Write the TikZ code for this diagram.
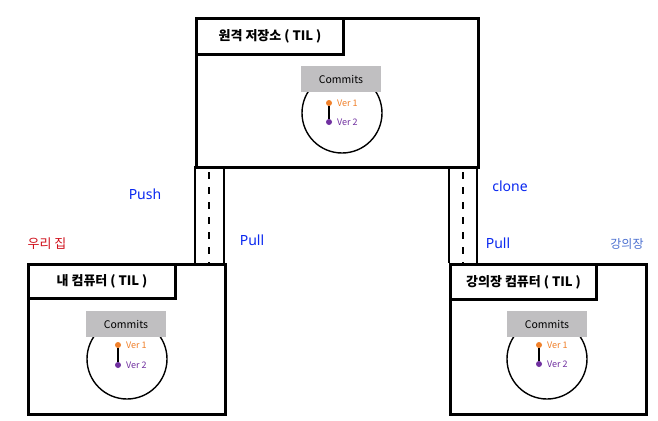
\documentclass[tikz,border=0pt]{standalone}
\usepackage{fontspec}
\setmainfont{Noto Sans CJK KR}
\newfontfamily\hand{Noto Sans}
\definecolor{cgray}{HTML}{C0BFC1}
\definecolor{vorange}{HTML}{F0802A}
\definecolor{vpurple}{HTML}{7030A0}
\definecolor{penblue}{HTML}{0A28F0}
\definecolor{homered}{HTML}{D0101B}
\definecolor{lecblue}{HTML}{4A6FD0}
\tikzset{
  box/.style={draw=black, line width=3pt, fill=white, anchor=north west, inner sep=0pt},
  titlebox/.style={box, font=\bfseries\fontsize{13}{15}\selectfont},
  ring/.style={draw=black, line width=1.4pt, circle, minimum size=80pt, inner sep=0pt},
  cbox/.style={fill=cgray, minimum width=80pt, minimum height=26pt, inner sep=0pt, font=\fontsize{10.5}{12}\selectfont},
  vdot/.style={circle, inner sep=0pt, minimum size=6pt},
  vlab/.style={anchor=west, inner sep=0pt, font=\fontsize{9}{10}\selectfont},
  pipe/.style={line width=2pt},
  pipedash/.style={line width=1.5pt, dash pattern=on 7pt off 8pt},
  handlab/.style={text=penblue, inner sep=0pt, font=\hand\bfseries\fontsize{14}{15}\selectfont},
}
\begin{document}
\begin{tikzpicture}[x=1pt,y=-1pt]
\useasboundingbox (0,0) rectangle (658,420);
\fill[white] (0,0) rectangle (658,420);

% pipes
\coordinate (pl1) at (195,166); \coordinate (pl2) at (195,263);
\coordinate (pl3) at (224,166); \coordinate (pl4) at (224,263);
\coordinate (pl5) at (209,172); \coordinate (pl6) at (209,263);
\coordinate (pr1) at (449,166); \coordinate (pr2) at (449,263);
\coordinate (pr3) at (477,166); \coordinate (pr4) at (477,263);
\coordinate (pr5) at (463,172); \coordinate (pr6) at (463,263);
\draw[pipe] (pl1) -- (pl2);
\draw[pipe] (pl3) -- (pl4);
\draw[pipedash] (pl5) -- (pl6);
\draw[pipe] (pr1) -- (pr2);
\draw[pipe] (pr3) -- (pr4);
\draw[pipedash] (pr5) -- (pr6);

% remote box
\node[box, minimum width=282pt, minimum height=149pt] (remote) at (195,17) {};
\node[titlebox, minimum width=147pt, minimum height=36pt] (remoteT) at (195,17) {원격 저장소 ( TIL )};
\node[ring] (rc) at (342,113) {};
\node[cbox] (rb) at (341,79) {Commits};
\node[vdot, fill=vorange] (rv1) at (329,103) {};
\node[vdot, fill=vpurple] (rv2) at (329,122) {};
\draw[line width=1.5pt] (rv1) -- (rv2);
\node[vlab, text=vorange] (rl1) at (337,103) {Ver 1};
\node[vlab, text=vpurple] (rl2) at (337,122) {Ver 2};

% my computer
\node[box, minimum width=197pt, minimum height=150pt] (mine) at (27,263) {};
\node[titlebox, minimum width=147pt, minimum height=34pt] (mineT) at (27,263) {내 컴퓨터 ( TIL )};
\node[ring] (mc) at (127,359) {};
\node[cbox] (mb) at (126,324) {Commits};
\node[vdot, fill=vorange] (mv1) at (118,345) {};
\node[vdot, fill=vpurple] (mv2) at (118,365) {};
\draw[line width=1.5pt] (mv1) -- (mv2);
\node[vlab, text=vorange] (ml1) at (126,345) {Ver 1};
\node[vlab, text=vpurple] (ml2) at (126,365) {Ver 2};

% lecture computer
\node[box, minimum width=196pt, minimum height=150pt] (lec) at (449,263) {};
\node[titlebox, minimum width=146pt, minimum height=35pt] (lecT) at (449,263) {강의장 컴퓨터 ( TIL )};
\node[ring] (lc) at (547,359) {};
\node[cbox] (lb) at (547,324) {Commits};
\node[vdot, fill=vorange] (lv1) at (539,345) {};
\node[vdot, fill=vpurple] (lv2) at (539,364) {};
\draw[line width=1.5pt] (lv1) -- (lv2);
\node[vlab, text=vorange] (ll1) at (547,345) {Ver 1};
\node[vlab, text=vpurple] (ll2) at (547,364) {Ver 2};

% labels
\node[handlab] (push) at (145,194) {Push};
\node[handlab] (pull1) at (252,240) {Pull};
\node[handlab] (clone) at (510,186) {clone};
\node[handlab] (pull2) at (498,243) {Pull};
\node[text=homered, inner sep=0pt, font=\fontsize{13}{15}\selectfont] (home) at (47,244) {우리 집};
\node[text=lecblue, inner sep=0pt, font=\fontsize{12}{14}\selectfont] (lecture) at (627,244) {강의장};
\end{tikzpicture}
\end{document}
